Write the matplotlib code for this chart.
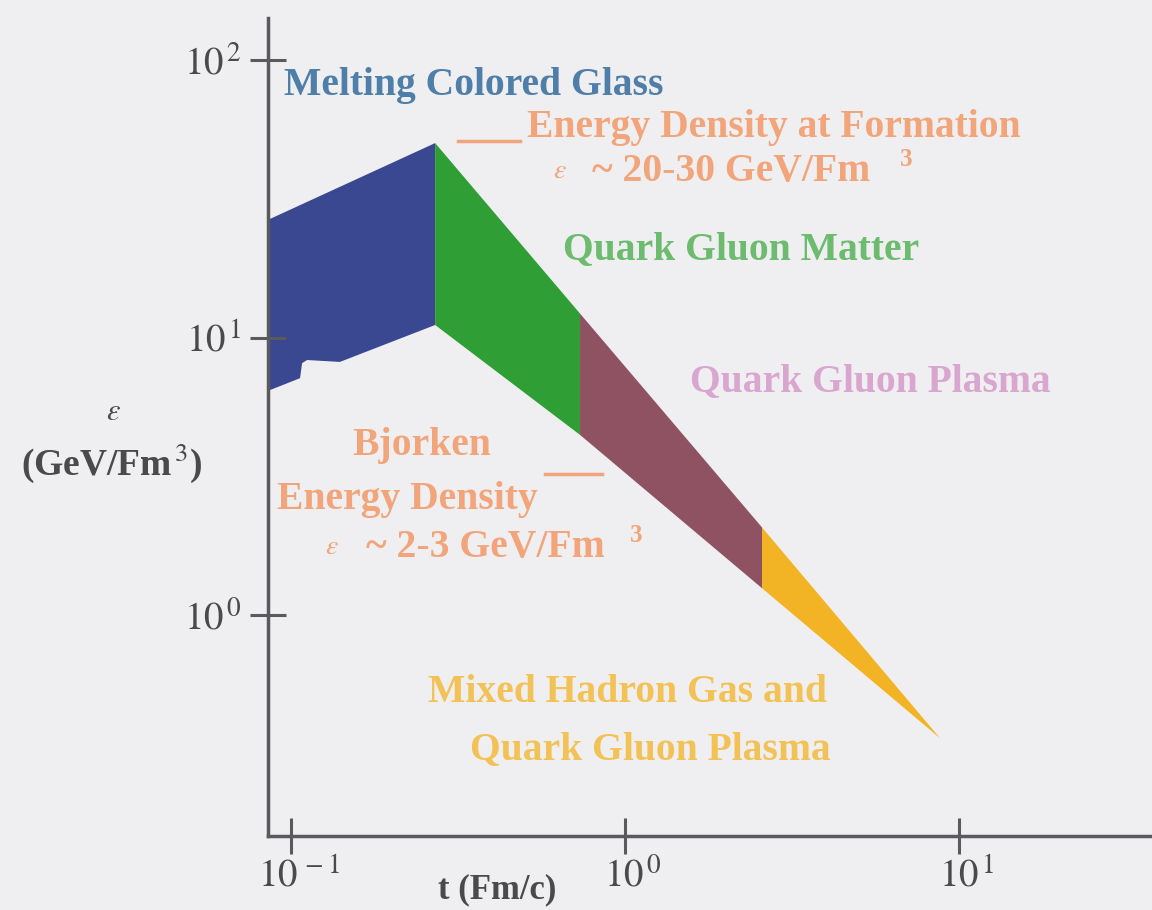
import matplotlib
matplotlib.use("Agg")
import matplotlib.pyplot as plt
from matplotlib.patches import Polygon
from matplotlib.transforms import ScaledTranslation

# ---- data (t in Fm/c, energy density in GeV/Fm^3) ----
# Melting Colored Glass region outline
cgc_t   = [0.085, 0.270, 0.270, 0.140, 0.1117, 0.1079, 0.1064, 0.0865]
cgc_eps = [26.5, 50.2, 11.1, 8.17, 8.30, 8.09, 7.14, 6.47]

# phase boundaries along the cooling band
bound_t     = [0.270, 0.733, 2.57, 8.77]
bound_upper = [50.2, 12.2, 2.07, 0.36]
bound_lower = [11.1, 4.46, 1.25, 0.36]

phase_names  = ["Quark Gluon Matter", "Quark Gluon Plasma", "Mixed Hadron Gas"]
phase_colors = ["#2f9e35", "#8f5262", "#f2b424"]

xticks = [0.1, 1, 10]
xtick_labels = [r"$10^{\,-1}$", r"$10^{\,0}$", r"$10^{\,1}$"]
yticks = [1, 10, 100]
ytick_labels = [r"$10^{\,0}$", r"$10^{\,1}$", r"$10^{\,2}$"]

plt.rcParams["font.family"] = ["Liberation Serif", "DejaVu Serif"]
plt.rcParams["mathtext.fontset"] = "stix"

W, H = 1152, 910
fig = plt.figure(figsize=(W / 100, H / 100), dpi=100, facecolor="#efeff1")


def fx(px):
    return px / W


def fy(py):
    return 1 - py / H


ax = fig.add_axes([fx(268), fy(836), fx(1152) - fx(268), fy(18) - fy(836)])
ax.set_facecolor("#efeff1")
ax.set_xscale("log")
ax.set_yscale("log")
ax.set_xlim(0.0853, 37.8)
ax.set_ylim(0.16, 141.7)

for s in ["top", "right"]:
    ax.spines[s].set_visible(False)
for s in ["left", "bottom"]:
    ax.spines[s].set_color("#5a5a5e")
    ax.spines[s].set_linewidth(2.5)

ax.minorticks_off()
ax.set_xticks(xticks)
ax.set_xticklabels(xtick_labels)
ax.set_yticks(yticks)
ax.set_yticklabels(ytick_labels)
ax.tick_params(axis="both", direction="inout", length=26, width=2.2,
               color="#5a5a5e", labelcolor="#4a4a4a", labelsize=28)
ax.tick_params(axis="x", pad=3)
ax.tick_params(axis="y", pad=6)
for lab in ax.get_xticklabels():
    lab.set_transform(lab.get_transform() + ScaledTranslation(0.08, 0, fig.dpi_scale_trans))

# colored glass region
ax.add_patch(Polygon(list(zip(cgc_t, cgc_eps)), closed=True,
                     facecolor="#3a4791", edgecolor="none", clip_on=False))

# cooling phases
for i in range(len(bound_t) - 1):
    verts = [(bound_t[i], bound_upper[i]), (bound_t[i + 1], bound_upper[i + 1]),
             (bound_t[i + 1], bound_lower[i + 1]), (bound_t[i], bound_lower[i])]
    ax.add_patch(Polygon(verts, closed=True, facecolor=phase_colors[i],
                         edgecolor="none"))

bold = dict(fontweight="bold", ha="left", va="center")
salmon = "#f2a57a"
FS = 28.5

fig.text(fx(284), fy(85), "Melting Colored Glass", color="#4f7fa8", fontsize=FS, **bold)
fig.text(fx(527), fy(127), "Energy Density at Formation", color=salmon, fontsize=FS, **bold)
fig.text(fx(553), fy(172), r"$\epsilon$", color=salmon, fontsize=20, **bold)
fig.text(fx(592), fy(172), "~ 20-30 GeV/Fm", color=salmon, fontsize=FS, **bold)
fig.text(fx(900), fy(160), "3", color=salmon, fontsize=18, **bold)
fig.text(fx(563), fy(250), "Quark Gluon Matter", color="#6cbb6e", fontsize=FS, **bold)
fig.text(fx(690), fy(382), "Quark Gluon Plasma", color="#d9a6cf", fontsize=FS, **bold)
fig.text(fx(352), fy(445), "Bjorken", color=salmon, fontsize=FS, **bold)
fig.text(fx(277), fy(500), "Energy Density", color=salmon, fontsize=FS, **bold)
fig.text(fx(325), fy(548), r"$\epsilon$", color=salmon, fontsize=20, **bold)
fig.text(fx(366), fy(548), "~ 2-3 GeV/Fm", color=salmon, fontsize=FS, **bold)
fig.text(fx(630), fy(535), "3", color=salmon, fontsize=18, **bold)
fig.text(fx(428), fy(693), "Mixed Hadron Gas and", color="#f3c257", fontsize=FS, **bold)
fig.text(fx(470), fy(750), "Quark Gluon Plasma", color="#f3c257", fontsize=FS, **bold)

# short pointer marks
fig.add_artist(plt.Line2D([fx(458), fx(520)], [fy(141), fy(141)], color=salmon, lw=2.5))
fig.add_artist(plt.Line2D([fx(545), fx(602)], [fy(474), fy(474)], color=salmon, lw=2.5))

# axis labels
fig.text(fx(113), fy(413), r"$\epsilon$", color="#4a4a4a", fontsize=22, ha="center", va="center")
fig.text(fx(112), fy(463), r"(GeV/Fm$^{\,3}$)", color="#4a4a4a", fontsize=27,
         fontweight="bold", ha="center", va="center")
fig.text(fx(497), fy(890), "t (Fm/c)", color="#4a4a4a", fontsize=25,
         fontweight="bold", ha="center", va="center")

fig.savefig("out.png", dpi=100, facecolor=fig.get_facecolor())
